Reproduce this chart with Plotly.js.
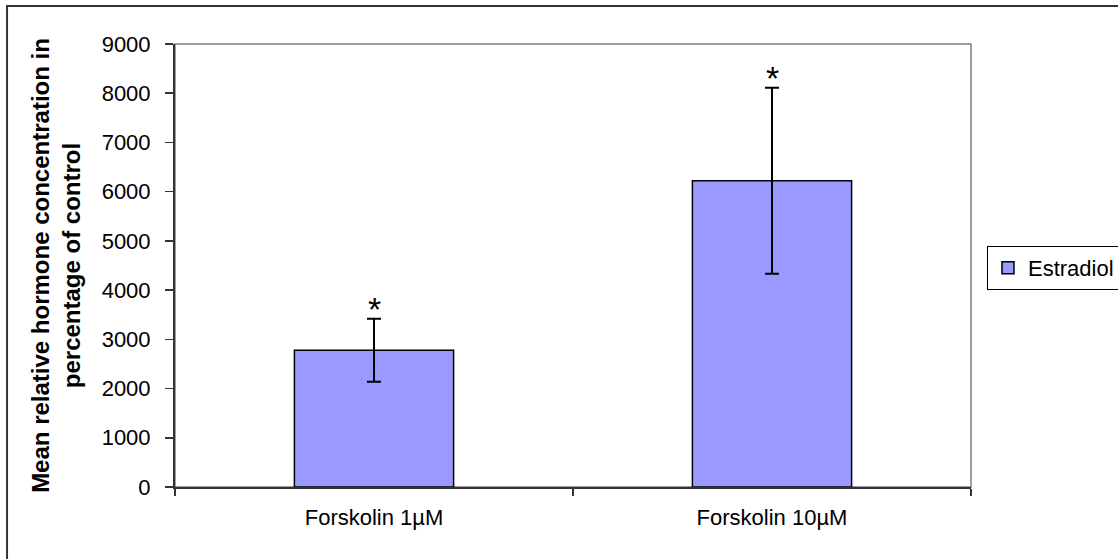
<!DOCTYPE html>
<html>
<head>
<meta charset="utf-8">
<script src="https://cdn.plot.ly/plotly-3.0.1.min.js"></script>
<style>html,body{margin:0;padding:0;background:#fff;}#chart{width:1118px;height:559px;}</style>
</head>
<body>
<div id="chart"></div>
<script>
const categories = ['Forskolin 1µM', 'Forskolin 10µM'];
const estradiol = [2780, 6220];
const estradiolErr = [640, 1890];
const significance = ['*', '*'];
const seriesName = 'Estradiol';
const yTitle = 'Mean relative hormone concentration in<br>percentage of control';

const FONT = '"Liberation Sans", Arial, sans-serif';

const trace = {
  type: 'bar',
  name: seriesName,
  x: categories,
  y: estradiol,
  marker: { color: '#9999FF', line: { color: '#000000', width: 1.5 } },
  error_y: { type: 'data', array: estradiolErr, visible: true, color: '#000000', thickness: 2, width: 7 },
  showlegend: true
};

const annotations = categories.map((c, i) => ({
  x: c, y: estradiol[i] + estradiolErr[i], xref: 'x', yref: 'y',
  text: significance[i], showarrow: false, yanchor: 'bottom',
  yshift: -11, font: { family: FONT, size: 34, color: '#000' }
}));

const layout = {
  width: 1118, height: 559,
  margin: { l: 175, r: 147, t: 44, b: 72, pad: 0 },
  paper_bgcolor: '#ffffff', plot_bgcolor: '#ffffff',
  font: { family: FONT, size: 22, color: '#000' },
  bargap: 0.6,
  showlegend: true,
  legend: {
    xref: 'container', yref: 'container',
    x: 0.8828, y: 0.5599, xanchor: 'left', yanchor: 'top',
    bordercolor: '#000', borderwidth: 1, bgcolor: '#fff',
    font: { family: FONT, size: 22, color: '#000' },
    itemwidth: 30
  },
  xaxis: {
    type: 'category', range: [-0.5, 1.5],
    showline: true, linecolor: '#333', linewidth: 2,
    ticks: 'outside', tickson: 'boundaries', ticklen: 7, tickcolor: '#333', tickwidth: 1.5,
    showgrid: false, zeroline: false,
    tickfont: { family: FONT, size: 22, color: '#000' },
    ticklabelstandoff: 10
  },
  yaxis: {
    range: [0, 9000], dtick: 1000, tick0: 0,
    showline: true, linecolor: '#333', linewidth: 2,
    ticks: 'outside', ticklen: 8, tickcolor: '#333', tickwidth: 1.5,
    showgrid: false, zeroline: false,
    tickfont: { family: FONT, size: 22, color: '#000' },
    ticklabelstandoff: 10,
    title: { text: yTitle, font: { family: FONT, size: 24, color: '#000', weight: 'bold' }, standoff: 14 },
    automargin: false
  },
  annotations: annotations,
  shapes: [
    { type: 'rect', xref: 'paper', yref: 'paper', x0: 0, x1: 1, y0: 0, y1: 1,
      line: { color: '#808080', width: 1.5 }, layer: 'below' },
    { type: 'rect', xref: 'paper', yref: 'paper', x0: -0.211, x1: 1.2, y0: -0.2, y1: 1.0858,
      line: { color: '#333', width: 2 }, layer: 'below' }
  ]
};

Plotly.newPlot('chart', [trace], layout, { displayModeBar: false, staticPlot: true });
</script>
</body>
</html>
